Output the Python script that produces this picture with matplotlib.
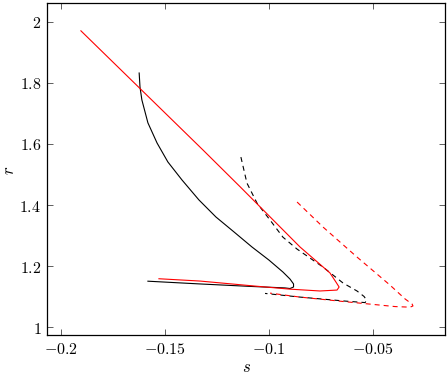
import matplotlib
matplotlib.use("Agg")
import matplotlib.pyplot as plt

plt.rcParams["mathtext.fontset"] = "cm"
plt.rcParams["font.family"] = "serif"
plt.rcParams["font.serif"] = ["DejaVu Serif"]
plt.rcParams["lines.scale_dashes"] = False

# black, solid branch
black_solid_s = [-0.1624, -0.1620, -0.1611, -0.1582, -0.1538, -0.1486, -0.1418,
                 -0.1337, -0.1255, -0.1168, -0.1082, -0.1000, -0.0933, -0.0899,
                 -0.0882, -0.0882, -0.0899, -0.0923, -0.1091, -0.1332, -0.1582]
black_solid_r = [1.832, 1.786, 1.744, 1.669, 1.603, 1.541, 1.482,
                 1.417, 1.361, 1.312, 1.263, 1.220, 1.181, 1.158,
                 1.142, 1.132, 1.127, 1.129, 1.134, 1.142, 1.151]

# black, dashed branch
black_dash_s = [-0.1135, -0.1106, -0.1058, -0.0995, -0.0933, -0.0865, -0.0740,
                -0.0644, -0.0577, -0.0543, -0.0531, -0.0538, -0.0635, -0.0851,
                -0.1019]
black_dash_r = [1.557, 1.472, 1.407, 1.351, 1.295, 1.256, 1.197,
                1.145, 1.119, 1.101, 1.089, 1.081, 1.086, 1.099,
                1.111]

# red, solid branch
red_solid_s = [-0.1904, -0.1317, -0.1139, -0.0851, -0.0707, -0.0678, -0.0663,
               -0.0673, -0.0755, -0.0899, -0.1067, -0.1332, -0.1529]
red_solid_r = [1.970, 1.580, 1.460, 1.263, 1.178, 1.148, 1.132,
               1.122, 1.119, 1.125, 1.135, 1.1515, 1.159]

# red, dashed branch
red_dash_s = [-0.0865, -0.0740, -0.0577, -0.0418, -0.0346, -0.0312, -0.0308,
              -0.0322, -0.0394, -0.0514, -0.0635, -0.0851, -0.0995]
red_dash_r = [1.410, 1.328, 1.230, 1.138, 1.093, 1.076, 1.070,
              1.066, 1.068, 1.076, 1.084, 1.099, 1.112]

x_ticks = [-0.2, -0.15, -0.1, -0.05]
x_labels = ["$-0.2$", "$-0.15$", "$-0.1$", "$-0.05$"]
y_ticks = [1, 1.2, 1.4, 1.6, 1.8, 2]
y_labels = ["$1$", "$1.2$", "$1.4$", "$1.6$", "$1.8$", "$2$"]

fig = plt.figure(figsize=(4.48, 3.76), dpi=100)
ax = fig.add_axes([47 / 448, 41 / 376, 398 / 448, 332 / 376])

ax.plot(black_solid_s, black_solid_r, color="black", lw=0.8)
ax.plot(black_dash_s, black_dash_r, color="black", lw=0.8, dashes=(3.6, 2.9))
ax.plot(red_solid_s, red_solid_r, color="red", lw=0.8)
ax.plot(red_dash_s, red_dash_r, color="red", lw=0.8, dashes=(3.6, 2.9))

ax.set_xlim(-0.2067, -0.0154)
ax.set_ylim(0.975, 2.061)
ax.set_xticks(x_ticks)
ax.set_xticklabels(x_labels)
ax.set_yticks(y_ticks)
ax.set_yticklabels(y_labels)
ax.tick_params(direction="in", length=4.5, width=0.6, top=True, right=True,
               labelsize=11.5, pad=4, color="#444444")
for sp in ax.spines.values():
    sp.set_linewidth(0.9)
ax.set_xlabel("$s$", fontsize=12, va="center")
ax.set_ylabel("$r$", fontsize=12, rotation=90, va="center")
ax.xaxis.set_label_coords(0.5025, -0.099)
ax.yaxis.set_label_coords(-0.093, 0.497)

fig.savefig("out.png", dpi=100)
